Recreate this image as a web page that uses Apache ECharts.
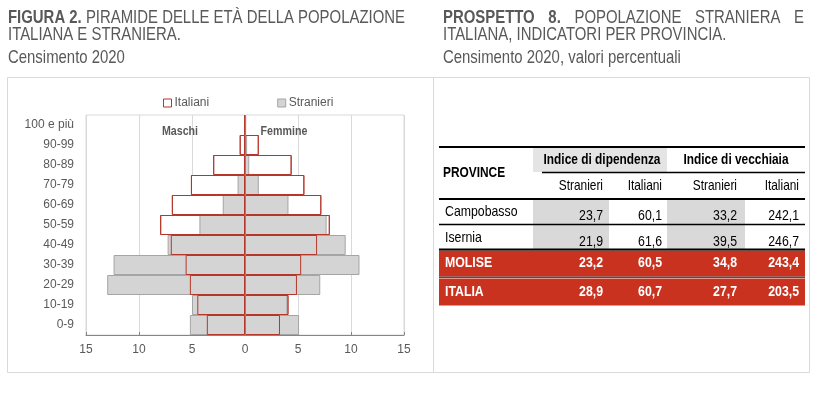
<!DOCTYPE html>
<html>
<head>
<meta charset="utf-8">
<script src="https://cdn.jsdelivr.net/npm/echarts@6/dist/echarts.min.js"></script>
<style>
html,body{margin:0;padding:0;background:#fff;}
#chart{width:832px;height:393px;}
</style>
</head>
<body>
<div id="chart"></div>
<script>
// ---------- DATA ----------
const ageClasses = ['0-9','10-19','20-29','30-39','40-49','50-59','60-69','70-79','80-89','90-99','100 e più'];
const italianiMaschi   = [3.6, 4.5, 5.2, 5.6, 7.0, 8.0, 6.9, 5.1, 3.0, 0.5, 0.05];
const italianiFemmine  = [3.3, 4.1, 4.9, 5.3, 6.8, 8.0, 7.2, 5.6, 4.4, 1.3, 0.1];
const stranieriMaschi  = [5.2, 5.0, 13.0, 12.4, 7.3, 4.3, 2.1, 0.7, 0.1, 0.1, 0];
const stranieriFemmine = [5.1, 4.0, 7.1, 10.8, 9.5, 7.7, 4.1, 1.3, 0.4, 0.2, 0];
const xTicks = [-15, -10, -5, 0, 5, 10, 15];

const provinces = ['Campobasso', 'Isernia', 'MOLISE', 'ITALIA'];
const dipStranieri = [23.7, 21.9, 23.2, 28.9];
const dipItaliani  = [60.1, 61.6, 60.5, 60.7];
const vecStranieri = [33.2, 39.5, 34.8, 27.7];
const vecItaliani  = [242.1, 246.7, 243.4, 203.5];
const groupHeaders = ['Indice di dipendenza', 'Indice di vecchiaia'];
const subHeaders = ['Stranieri', 'Italiani', 'Stranieri', 'Italiani'];

// ---------- STYLE ----------
const FONT = '"Liberation Sans Narrow", "Arial Narrow", "Liberation Sans", Arial, sans-serif';
const NARROW = 0.82; // horizontal compression to mimic a narrow face
const GREY_TXT = '#595959';
const RED = '#b5372a';
const TABLE_RED = '#c8321f';

const chart = echarts.init(document.getElementById('chart'), null, {renderer: 'canvas'});

function txt(x, y, text, size, opts) {
  opts = opts || {};
  return {
    type: 'text', x: x, y: y, scaleX: NARROW, silent: true, z: 10,
    style: {
      text: text,
      fontFamily: FONT,
      fontSize: size,
      fontWeight: opts.bold ? 'bold' : 'normal',
      fill: opts.color || '#000',
      align: opts.align || 'left', textAlign: opts.align || 'left',
      verticalAlign: 'middle', textVerticalAlign: 'middle'
    }
  };
}
function hline(x1, x2, y, w, color) {
  return {type: 'line', silent: true, z: 9, shape: {x1: x1, y1: y, x2: x2, y2: y},
    style: {stroke: color || '#000', lineWidth: w}};
}
function rect(x, y, w, h, fill, stroke) {
  return {type: 'rect', silent: true, z: 1, shape: {x: x, y: y, width: w, height: h},
    style: {fill: fill || 'none', stroke: stroke || null, lineWidth: 1}};
}

// measure text for justified title line
const mctx = document.createElement('canvas').getContext('2d');
function measure(t, size, bold) {
  mctx.font = (bold ? 'bold ' : '') + size + 'px ' + FONT;
  return mctx.measureText(t).width * NARROW;
}

const els = [];
// panel boxes
els.push(rect(7.5, 77.5, 426, 295, null, '#d9d9d9'));
els.push(rect(433.5, 77.5, 376, 295, null, '#d9d9d9'));

// left title
const TS = 18.2;
const L1 = 17.5, L2 = 35, L3 = 58;
els.push({
  type: 'text', x: 8, y: L1, scaleX: NARROW, silent: true,
  style: {
    text: '{b|FIGURA 2.}{n| PIRAMIDE DELLE ETÀ DELLA POPOLAZIONE}',
    fontFamily: FONT, fontSize: TS, fill: GREY_TXT,
    verticalAlign: 'middle', textVerticalAlign: 'middle',
    rich: {
      b: {fontFamily: FONT, fontSize: TS, fontWeight: 'bold', fill: GREY_TXT, color: GREY_TXT},
      n: {fontFamily: FONT, fontSize: TS, fontWeight: 'normal', fill: GREY_TXT, color: GREY_TXT}
    }
  }
});
els.push(txt(8, L2, 'ITALIANA E STRANIERA.', TS, {color: GREY_TXT}));
els.push(txt(8, L3, 'Censimento 2020', TS, {color: GREY_TXT}));

// right title, first line justified
const rx0 = 443, rx1 = 804;
const words = [['PROSPETTO', true], ['8.', true], ['POPOLAZIONE', false], ['STRANIERA', false], ['E', false]];
const wsum = words.reduce((s, w) => s + measure(w[0], TS, w[1]), 0);
const gap = (rx1 - rx0 - wsum) / (words.length - 1);
let cx = rx0;
words.forEach(w => {
  els.push(txt(cx, L1, w[0], TS, {color: GREY_TXT, bold: w[1]}));
  cx += measure(w[0], TS, w[1]) + gap;
});
els.push(txt(rx0, L2, 'ITALIANA, INDICATORI PER PROVINCIA.', TS, {color: GREY_TXT}));
els.push(txt(rx0, L3, 'Censimento 2020, valori percentuali', TS, {color: GREY_TXT}));

// pyramid labels
els.push(txt(180, 131, 'Maschi', 13, {bold: true, color: GREY_TXT, align: 'center'}));
els.push(txt(284, 131, 'Femmine', 13, {bold: true, color: GREY_TXT, align: 'center'}));

// ---------- TABLE ----------
const TX0 = 439, TX1 = 805;
const colRight = [603, 662, 737, 799];
const TF = 14.5;
// header band
els.push(rect(533, 148, 134, 24, '#e4e4e4'));
// row grey bands (Stranieri columns)
els.push(rect(533, 200, 76, 49, '#d9d9d9'));
els.push(rect(667, 200, 78, 49, '#d9d9d9'));
// red total rows
els.push(rect(TX0, 250.5, TX1 - TX0, 26, TABLE_RED));
els.push(rect(TX0, 278.5, TX1 - TX0, 27, TABLE_RED));
// rules
els.push(hline(TX0, TX1, 147, 2));
els.push(hline(542, TX1, 172.5, 1.3));
els.push(hline(TX0, TX1, 199, 2));
els.push(hline(TX0, TX1, 224.5, 1.3));
els.push(hline(TX0, TX1, 249.5, 2));
els.push(hline(TX0, TX1, 277.2, 1));
// headers
els.push(txt(443, 173, 'PROVINCE', TF, {bold: true}));
els.push(txt(602, 160, groupHeaders[0], TF, {bold: true, align: 'center'}));
els.push(txt(736, 160, groupHeaders[1], TF, {bold: true, align: 'center'}));
subHeaders.forEach((h, i) => els.push(txt(colRight[i], 186, h, TF, {align: 'right'})));
// rows
const labelY = [211.5, 237.5, 263, 292];
const numY = [216, 242, 263, 292];
const fmt = v => v.toFixed(1).replace('.', ',');
provinces.forEach((p, r) => {
  const total = r >= 2;
  const col = total ? '#fff' : '#000';
  els.push(txt(445, labelY[r], p, 15, {bold: total, color: col}));
  [dipStranieri, dipItaliani, vecStranieri, vecItaliani].forEach((arr, c) => {
    els.push(txt(colRight[c], numY[r], fmt(arr[r]), 15, {bold: total, color: col, align: 'right'}));
  });
});

// ---------- SERIES ----------
const neg = a => a.map(v => -v);
const barBase = {type: 'bar', barGap: '-100%', barCategoryGap: '0%'};
const option = {
  animation: false,
  textStyle: {fontFamily: FONT},
  legend: {
    left: 163, top: 97, padding: 0, itemWidth: 8, itemHeight: 8, itemGap: 68, icon: 'rect',
    textStyle: {fontFamily: FONT, fontSize: 12, color: GREY_TXT, padding: [0, 0, 0, -2]},
    data: [
      {name: 'Italiani', itemStyle: {color: '#fff', borderColor: RED, borderWidth: 1}},
      {name: 'Stranieri', itemStyle: {color: '#d4d4d4', borderColor: '#a5a5a5', borderWidth: 1}}
    ]
  },
  grid: {left: 86, right: 428, top: 115, bottom: 58, show: true, borderColor: '#d9d9d9', borderWidth: 1},
  xAxis: {
    type: 'value', min: xTicks[0], max: xTicks[xTicks.length - 1], interval: 5,
    axisLabel: {formatter: v => String(Math.abs(v)), color: GREY_TXT, fontSize: 12, margin: 9, fontFamily: FONT},
    axisLine: {show: true, lineStyle: {color: '#868686'}},
    axisTick: {show: true, inside: true, length: 3, lineStyle: {color: '#868686'}},
    splitLine: {show: true, lineStyle: {color: '#d9d9d9'}}
  },
  yAxis: {
    type: 'category', data: ageClasses,
    axisLine: {show: false}, axisTick: {show: false},
    axisLabel: {color: GREY_TXT, fontSize: 12, margin: 12, fontFamily: FONT}
  },
  series: [
    Object.assign({}, barBase, {name: 'Italiani', data: neg(italianiMaschi), z: 2,
      itemStyle: {color: '#fff', borderColor: RED, borderWidth: 1}}),
    Object.assign({}, barBase, {name: 'Italiani', data: italianiFemmine, z: 2,
      itemStyle: {color: '#fff', borderColor: RED, borderWidth: 1}}),
    Object.assign({}, barBase, {name: 'Stranieri', data: neg(stranieriMaschi), z: 3,
      itemStyle: {color: '#d4d4d4', borderColor: '#a5a5a5', borderWidth: 1}}),
    Object.assign({}, barBase, {name: 'Stranieri', data: stranieriFemmine, z: 3,
      itemStyle: {color: '#d4d4d4', borderColor: '#a5a5a5', borderWidth: 1}}),
    Object.assign({}, barBase, {name: 'Italiani', data: neg(italianiMaschi), z: 4,
      itemStyle: {color: 'rgba(0,0,0,0)', borderColor: RED, borderWidth: 1}}),
    Object.assign({}, barBase, {name: 'Italiani', data: italianiFemmine, z: 4,
      itemStyle: {color: 'rgba(0,0,0,0)', borderColor: RED, borderWidth: 1},
      markLine: {silent: true, symbol: ['none', 'none'], label: {show: false},
        lineStyle: {color: '#868686', width: 1, type: 'solid'}, data: [{xAxis: 0}]}})
  ],
  graphic: {elements: els}
};
chart.setOption(option);
</script>
</body>
</html>
